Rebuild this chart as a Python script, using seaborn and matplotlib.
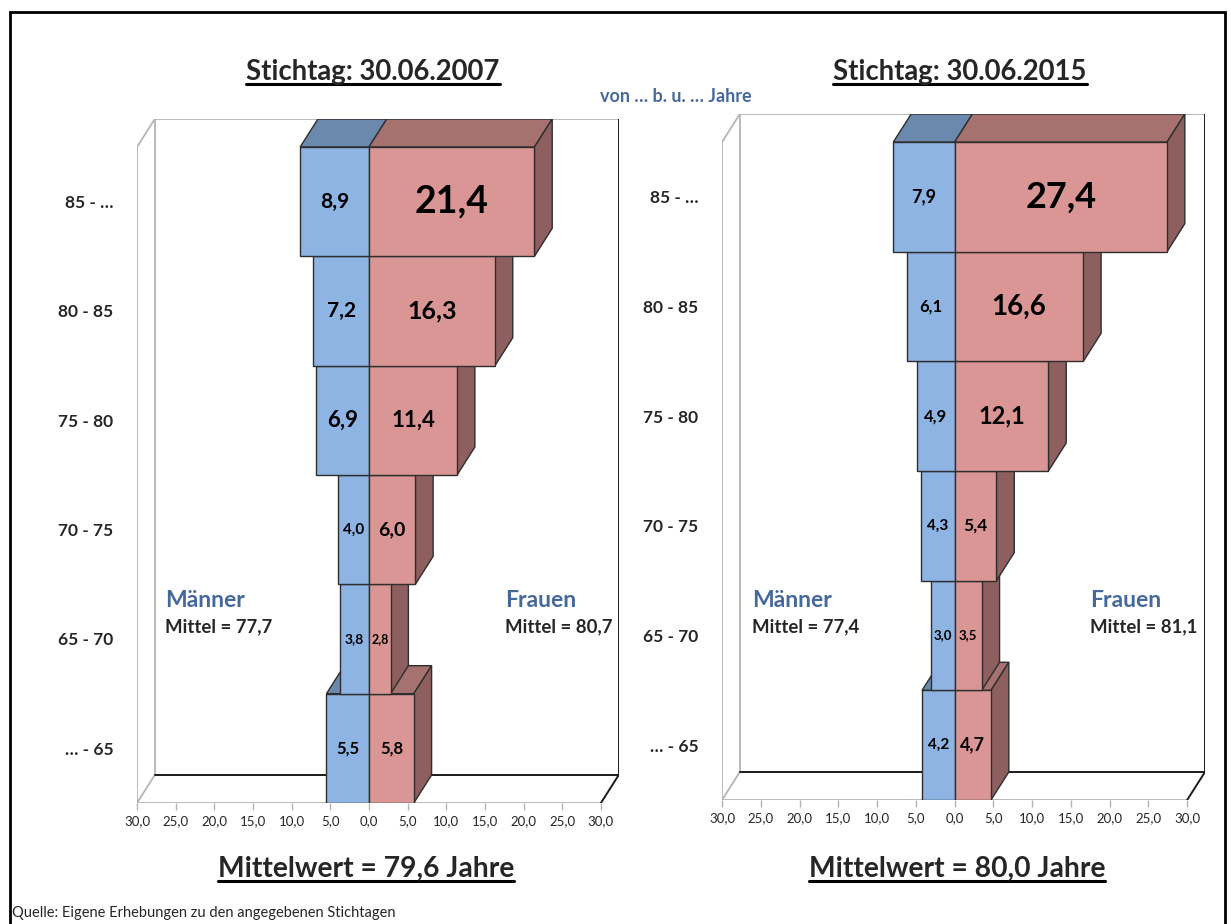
import matplotlib
matplotlib.use("Agg")
import matplotlib.pyplot as plt
from matplotlib.patches import Polygon, Rectangle
from matplotlib.lines import Line2D
import pandas as pd
import seaborn as sns

# data (percent of each sex per age group)
age_groups = ["85 - …", "80 - 85", "75 - 80", "70 - 75", "65 - 70", "… - 65"]
men_2007 = [8.9, 7.2, 6.9, 4.0, 3.8, 5.5]
women_2007 = [21.4, 16.3, 11.4, 6.0, 2.8, 5.8]
men_2015 = [7.9, 6.1, 4.9, 4.3, 3.0, 4.2]
women_2015 = [27.4, 16.6, 12.1, 5.4, 3.5, 4.7]
dates = ["30.06.2007", "30.06.2015"]
mean_men = [77.7, 77.4]
mean_women = [80.7, 81.1]
mean_total = [79.6, 80.0]
x_ticks = [-30, -25, -20, -15, -10, -5, 0, 5, 10, 15, 20, 25, 30]

# label font sizes, the original scales them per cell
men_label_sizes = [[15, 15, 16, 11, 10, 12], [13, 12, 12, 11, 9.5, 11]]
women_label_sizes = [[27, 18, 16, 14, 9, 12], [26, 20, 17, 12.5, 9.5, 13]]

MEN = "#8eb4e3"
MEN_TOP = "#6b89ac"
WOMEN = "#d99694"
WOMEN_TOP = "#a5726f"
WOMEN_SIDE = "#8d5f5e"
EDGE = "#2e2e2e"
BLUE_TXT = "#46699c"
WALL = "#b4b4b4"

DX, DY = 2.3, 0.256   # fake 3d depth in data units
W, H = 1231, 924

sns.set_theme(style="white")
plt.rcParams["font.family"] = ["Lato", "DejaVu Sans"]


def de(v):
    return f"{v:.1f}".replace(".", ",")


def draw_walls(ax):
    top, bot = -0.5, len(age_groups) - 0.5
    gray = dict(color=WALL, lw=1.3, zorder=1, solid_capstyle="butt")
    dark = dict(color="#1a1a1a", lw=1.4, zorder=1)
    ax.plot([-30, -30], [bot, top], **gray)
    ax.plot([-30, -30 + DX], [top, top - DY], **gray)
    ax.plot([-30, -30 + DX], [bot, bot - DY], **gray)
    ax.plot([-30 + DX, -30 + DX], [bot - DY, top - DY], **gray)
    ax.plot([-30 + DX, 30 + DX], [top - DY, top - DY], **gray)
    ax.plot([-30, 30], [bot, bot], **gray)
    ax.plot([30 + DX, 30 + DX], [top - DY, bot - DY], **dark)
    ax.plot([-30 + DX, 30 + DX], [bot - DY, bot - DY], **dark)
    ax.plot([30, 30 + DX], [bot, bot - DY], **dark)


def draw_pyramid(ax, men, women, msizes, wsizes):
    df = pd.DataFrame({
        "age": age_groups * 2,
        "sex": ["Männer"] * len(men) + ["Frauen"] * len(women),
        "value": [-v for v in men] + list(women),
    })
    sns.barplot(data=df, y="age", x="value", hue="sex", order=age_groups,
                hue_order=["Männer", "Frauen"], palette=[MEN, WOMEN],
                saturation=1, dodge=False, width=1.0, errorbar=None, legend=False,
                edgecolor=EDGE, linewidth=1.0, orient="h", ax=ax)
    n = len(age_groups)
    for p in ax.patches:
        x0 = min(p.get_x(), p.get_x() + p.get_width())
        x1 = max(p.get_x(), p.get_x() + p.get_width())
        yt, yb = p.get_y(), p.get_y() + p.get_height()
        i = int(round(yt + 0.5))
        z = 10 + (n - i) * 2
        is_men = x0 < 0
        top = Polygon([(x0, yt), (x1, yt), (x1 + DX, yt - DY), (x0 + DX, yt - DY)],
                      closed=True, fc=MEN_TOP if is_men else WOMEN_TOP,
                      ec=EDGE, lw=1.0, zorder=z)
        ax.add_patch(top)
        if not is_men:
            side = Polygon([(x1, yt), (x1 + DX, yt - DY), (x1 + DX, yb - DY), (x1, yb)],
                           closed=True, fc=WOMEN_SIDE, ec=EDGE, lw=1.0, zorder=z)
            ax.add_patch(side)
        p.set_zorder(z + 1)

    for i, (m, w) in enumerate(zip(men, women)):
        ax.text(-m / 2, i, de(m), ha="center", va="center", fontsize=msizes[i],
                fontweight="bold", color="black", zorder=100)
        ax.text(w / 2, i, de(w), ha="center", va="center", fontsize=wsizes[i],
                fontweight="bold", color="black", zorder=100)

    draw_walls(ax)
    ax.set_xlim(-30, 30 + DX)
    ax.set_ylim(n - 0.5, -0.5 - DY)
    ax.set_xticks(x_ticks)
    ax.set_xticklabels([de(abs(t)) for t in x_ticks], fontsize=9.5)
    ax.set_yticks(range(n))
    ax.set_yticklabels(age_groups, fontsize=12.5, fontweight="bold")
    ax.tick_params(axis="x", length=5, width=1, color=WALL, pad=4, bottom=True)
    ax.tick_params(axis="y", length=0, pad=17)
    ax.set_xlabel("")
    ax.set_ylabel("")
    for s in ax.spines.values():
        s.set_visible(False)
    ax.patch.set_alpha(0)


fig = plt.figure(figsize=(W / 100, H / 100), dpi=100)


def px_axes(x0, x1, ytop, ybot):
    return fig.add_axes([x0 / W, 1 - ybot / H, (x1 - x0) / W, (ybot - ytop) / H])


ax1 = px_axes(137, 618.7, 119, 803)
ax2 = px_axes(722, 1205, 114, 800)
draw_pyramid(ax1, men_2007, women_2007, men_label_sizes[0], women_label_sizes[0])
draw_pyramid(ax2, men_2015, women_2015, men_label_sizes[1], women_label_sizes[1])


def ftext(x, y, s, **kw):
    return fig.text(x / W, 1 - y / H, s, **kw)


underlined = []
for cx, d in zip([373, 960], dates):
    underlined.append(ftext(cx, 80, f"Stichtag: {d}", ha="center", va="baseline",
                            fontsize=19.8, fontweight="bold"))
for cx, m in zip([366, 957], mean_total):
    underlined.append(ftext(cx, 877, f"Mittelwert = {de(m)} Jahre", ha="center",
                            va="baseline", fontsize=20.3, fontweight="bold"))

ftext(676, 102, "von … b. u. … Jahre", ha="center", va="baseline", fontsize=13,
      fontweight="bold", color=BLUE_TXT)

for k, (xm, xw) in enumerate([(165, 505), (752, 1090)]):
    ftext(xm, 607, "Männer", fontsize=16.5, fontweight="bold", color=BLUE_TXT, va="baseline")
    ftext(xm, 632, f"Mittel = {de(mean_men[k])}", fontsize=13.4, fontweight="bold", va="baseline")
    ftext(xw, 607, "Frauen", fontsize=16.5, fontweight="bold", color=BLUE_TXT, va="baseline")
    ftext(xw, 632, f"Mittel = {de(mean_women[k])}", fontsize=13.4, fontweight="bold", va="baseline")

ftext(12, 917, "Quelle: Eigene Erhebungen zu den angegebenen Stichtagen", fontsize=10.5,
      va="baseline")

fig.add_artist(Rectangle((10 / W, -0.05), (1225 - 10) / W, 1 - 12 / H + 0.05,
                         transform=fig.transFigure, fill=False, ec="black", lw=2))

# underline the bold headings
fig.canvas.draw()
renderer = fig.canvas.get_renderer()
for t in underlined:
    bb = t.get_window_extent(renderer).transformed(fig.transFigure.inverted())
    yb = t.get_position()[1] - 4 / H
    fig.add_artist(Line2D([bb.x0, bb.x1], [yb, yb], transform=fig.transFigure,
                          color="black", lw=2.2))

fig.savefig("out.png", dpi=100)
